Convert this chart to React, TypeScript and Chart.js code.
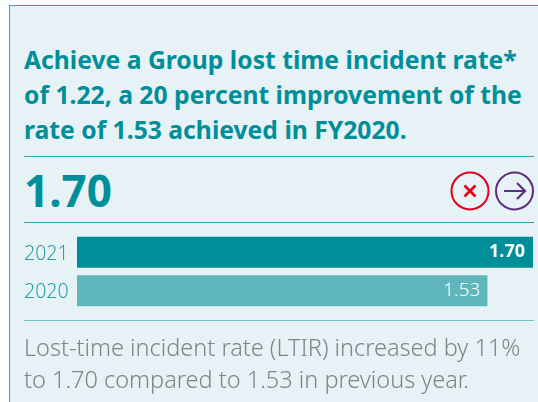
import React, { useEffect, useRef } from "react";
import { Chart, registerables } from "chart.js";

Chart.register(...registerables);

const years = ["2021", "2020"];
const rates = [1.7, 1.53];
const rateLabels = ["1.70", "1.53"];
const barColors = ["#008f99", "#5fb7bd"];
const titleLines = [
  "Achieve a Group lost time incident rate*",
  "of 1.22, a 20 percent improvement of the",
  "rate of 1.53 achieved in FY2020.",
];
const bodyLines = [
  "Lost-time incident rate (LTIR) increased by 11%",
  "to 1.70 compared to 1.53 in previous year.",
];
const FONT = '"Noto Sans", sans-serif';

const abs = (o: React.CSSProperties): React.CSSProperties => ({ position: "absolute", whiteSpace: "nowrap", ...o });

export default function App() {
  const ref = useRef<HTMLCanvasElement>(null);
  useEffect(() => {
    const chart = new Chart(ref.current!, {
      type: "bar",
      data: {
        labels: years,
        datasets: [{ data: rates, backgroundColor: barColors, barPercentage: 0.8, categoryPercentage: 1, borderWidth: 0 }],
      },
      options: {
        indexAxis: "y",
        animation: false,
        responsive: false,
        layout: { padding: { top: 233, bottom: 92, left: 24, right: 5 } },
        plugins: { legend: { display: false }, tooltip: { enabled: false } },
        scales: {
          x: { display: false, min: 0, max: 1.7 },
          y: {
            border: { display: false },
            grid: { display: false },
            afterFit: (s: any) => { s.width = 53; },
            ticks: { color: "#2a9ea6", font: { family: FONT, size: 19.5, weight: 300 }, crossAlign: "far", padding: 0, labelOffset: 2 },
          },
        },
      },
      plugins: [{
        id: "valueLabels",
        afterDatasetsDraw(c: any) {
          const g = c.ctx;
          const meta = c.getDatasetMeta(0);
          g.save();
          g.textAlign = "right";
          g.textBaseline = "middle";
          g.fillStyle = "#ffffff";
          meta.data.forEach((el: any, i: number) => {
            g.font = `${i === 0 ? "bold 18px" : "300 19px"} ${FONT}`;
            g.fillText(rateLabels[i], el.x - (i === 0 ? 8 : 7), el.y);
          });
          g.restore();
        },
      }],
    } as any);
    return () => chart.destroy();
  }, []);

  return (
    <div style={{ position: "fixed", left: 0, top: 0, width: 538, height: 402, background: "#fff", overflow: "hidden", fontFamily: FONT }}>
      <div style={abs({ left: 9, top: 5, width: 540, height: 420, background: "#e6f2f5", borderLeft: "1px solid #35a9b0", borderTop: "1px solid #35a9b0" })} />
      {titleLines.map((t, i) => (
        <div key={t} style={abs({ left: 24, top: 42 + i * 35, fontSize: 24.7, lineHeight: "36px", fontWeight: 700, color: "#008f99" })}>{t}</div>
      ))}
      <div style={abs({ left: 24, top: 156, width: 510, height: 1, background: "#2aa5ad" })} />
      <div style={abs({ left: 24, top: 162, fontSize: 44, lineHeight: "56px", fontWeight: 700, color: "#008f99" })}>1.70</div>
      <svg width={538} height={402} style={{ position: "absolute", left: 0, top: 0 }}>
        <circle cx={470} cy={191} r={18.5} fill="none" stroke="#e2001a" strokeWidth={2} />
        <path d="M464.5 185.5 L475.5 196.5 M475.5 185.5 L464.5 196.5" stroke="#e2001a" strokeWidth={2.8} fill="none" />
        <circle cx={514.5} cy={191} r={18.5} fill="none" stroke="#5c2d80" strokeWidth={2} />
        <path d="M504 191 L525 191 M517 183 L525 191 L517 199" stroke="#5c2d80" strokeWidth={2.2} fill="none" />
      </svg>
      <div style={abs({ left: 24, top: 222, width: 510, height: 1, background: "#2aa5ad" })} />
      <canvas ref={ref} width={538} height={402} style={{ position: "absolute", left: 0, top: 0 }} />
      <div style={abs({ left: 24, top: 320, width: 510, height: 1, background: "#6fc0c6" })} />
      {bodyLines.map((t, i) => (
        <div key={t} style={abs({ left: 24, top: 331 + i * 32, fontSize: 23.5, lineHeight: "32px", fontWeight: 300, color: "#7f8487" })}>{t}</div>
      ))}
    </div>
  );
}
